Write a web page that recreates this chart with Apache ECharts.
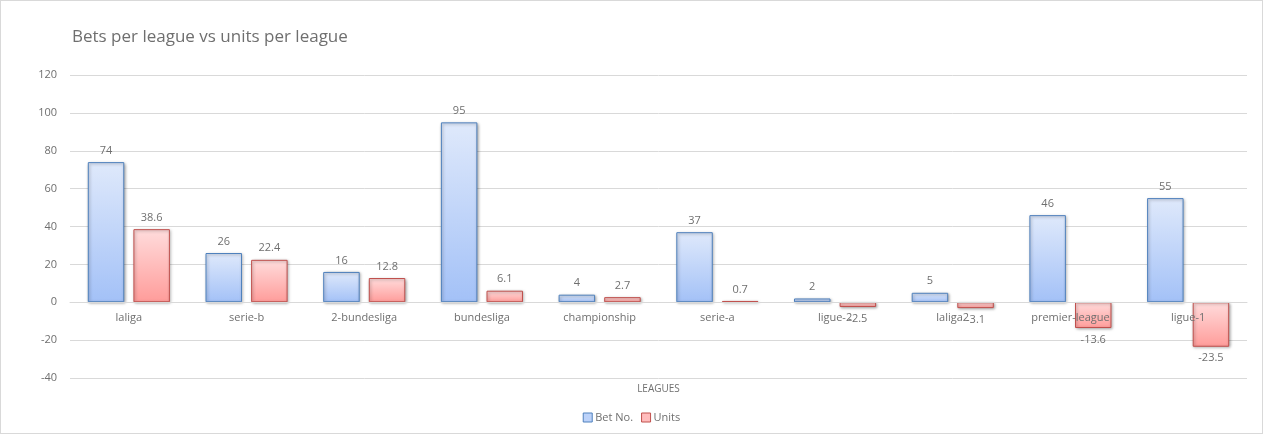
<!DOCTYPE html>
<html><head><meta charset="utf-8">
<script src="https://cdn.jsdelivr.net/npm/echarts@6/dist/echarts.min.js"></script>
<style>html,body{margin:0;padding:0;background:#fff}#c{width:1263px;height:434px;box-sizing:border-box;border:1px solid #d9d9d9}</style>
</head><body><div id="c"></div>
<script>
const categories = ['laliga','serie-b','2-bundesliga','bundesliga','championship','serie-a','ligue-2','laliga2','premier-league','ligue-1'];
const betNo = [74,26,16,95,4,37,2,5,46,55];
const units = [38.6,22.4,12.8,6.1,2.7,0.7,-2.5,-3.1,-13.6,-23.5];
const yTicks = {min:-40,max:120,interval:20};

const chart = echarts.init(document.getElementById('c'));
const font = "'Open Sans', 'Noto Sans', sans-serif";
const txt = '#6f6f6f';
const grad = (a,b)=>new echarts.graphic.LinearGradient(0,0,0,1,[{offset:0,color:a},{offset:1,color:b}]);
const withLabelPos = arr => arr.map(v => ({value:v, label:{position: v<0 ? 'bottom' : 'top'}}));
const gridTop = 74, gridBottom = 55, H = 432;
const plotH = H - gridTop - gridBottom;
const zeroOffset = plotH * (0 - yTicks.min) / (yTicks.max - yTicks.min);
chart.setOption({
  animation:false,
  textStyle:{fontFamily:font},
  title:{text:'Bets per league vs units per league',left:66,top:23,textStyle:{fontSize:17,fontWeight:'normal',color:txt,fontFamily:font}},
  grid:{left:69,right:15,top:gridTop,bottom:gridBottom,containLabel:false,outerBoundsMode:'none'},
  legend:{bottom:5,left:'center',itemWidth:9,itemHeight:9,itemGap:8,icon:'rect',textStyle:{color:txt,fontSize:11,fontFamily:font,padding:[0,0,0,-2]},
    data:[{name:'Bet No.',itemStyle:{color:'#bcd2f9',borderColor:'#4f81bd',borderWidth:1}},{name:'Units',itemStyle:{color:'#ffbcbc',borderColor:'#c0504d',borderWidth:1}}]},
  xAxis:{type:'category',z:5,data:categories,offset:-zeroOffset,axisLine:{onZero:false,lineStyle:{color:'#d9d9d9'}},axisTick:{show:false},
    axisLabel:{color:txt,fontSize:11,margin:10,fontFamily:font},
    name:'LEAGUES',nameLocation:'middle',nameGap:82,nameTextStyle:{color:txt,fontSize:10,fontFamily:font}},
  yAxis:{type:'value',min:yTicks.min,max:yTicks.max,interval:yTicks.interval,axisLine:{show:false},axisTick:{show:false},
    axisLabel:{color:txt,fontSize:11,margin:13,fontFamily:font},splitLine:{lineStyle:{color:'#d9d9d9'}}},
  series:[
    {name:'Bet No.',type:'bar',data:withLabelPos(betNo),barWidth:'31%',barGap:'25%',
      itemStyle:{color:grad('#dfe9fb','#a3c1f7'),borderColor:'#4f81bd',borderWidth:1,shadowColor:'rgba(0,0,0,0.35)',shadowBlur:3,shadowOffsetX:1,shadowOffsetY:1},
      label:{show:true,color:txt,fontSize:11,distance:6,fontFamily:font}},
    {name:'Units',type:'bar',data:withLabelPos(units),barWidth:'31%',
      itemStyle:{color:grad('#ffdcdc','#ff9c9a'),borderColor:'#c0504d',borderWidth:1,shadowColor:'rgba(0,0,0,0.35)',shadowBlur:3,shadowOffsetX:1,shadowOffsetY:1},
      label:{show:true,color:txt,fontSize:11,distance:6,fontFamily:font}}
  ]
});
</script></body></html>
